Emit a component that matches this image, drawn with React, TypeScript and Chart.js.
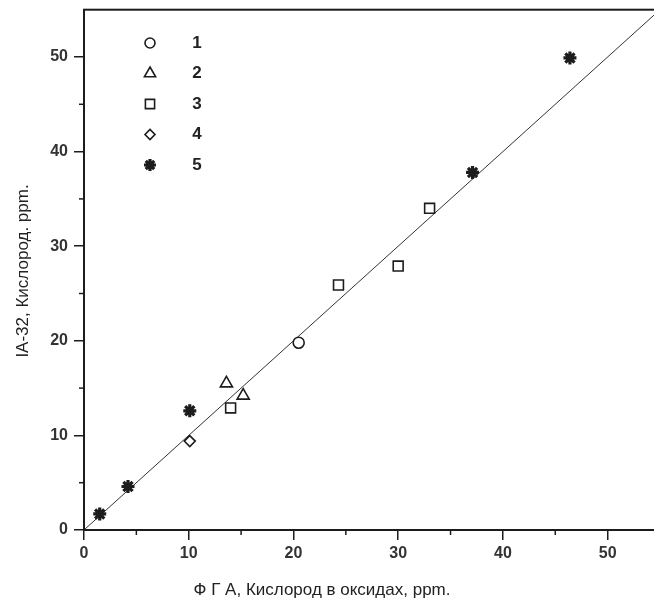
import React, { useEffect, useRef } from "react";
import { Chart, registerables } from "chart.js";
import { drawPoint } from "chart.js/helpers";

Chart.register(...registerables);

const seriesLabels = ["1", "2", "3", "4", "5"];
const s1X = [20.5];
const s1Y = [19.8];
const s2X = [13.6, 15.2];
const s2Y = [15.5, 14.2];
const s3X = [14.0, 24.3, 30.0, 33.0];
const s3Y = [12.9, 25.9, 27.9, 34.0];
const s4X = [10.1];
const s4Y = [9.4];
const s5X = [1.5, 4.2, 10.1, 37.1, 46.4];
const s5Y = [1.7, 4.6, 12.6, 37.8, 49.9];
const fitX = [0, 55];
const fitY = [0, 55];
const xTitle = "Ф Г А, Кислород в оксидах, ppm.";
const yTitle = "IA-32, Кислород. ppm.";
const tickValues = [0, 10, 20, 30, 40, 50];
const axisMin = 0;
const axisMax = 55;

const INK = "#1c1c1c";
const FONT = "'Liberation Sans', Arial, sans-serif";
const pts = (xs: number[], ys: number[]) => xs.map((x, i) => ({ x, y: ys[i] }));

export default function App() {
  const ref = useRef<HTMLCanvasElement | null>(null);

  useEffect(() => {
    if (!ref.current) return;

    const customPlugin = {
      id: "custom",
      afterDraw(chart: any) {
        const { ctx, chartArea: a, scales } = chart;
        const xs = scales.x;
        const ys = scales.y;
        ctx.save();
        // frame
        ctx.strokeStyle = INK;
        ctx.lineWidth = 2;
        ctx.strokeRect(a.left, a.top, a.right - a.left, a.bottom - a.top);
        // minor ticks
        ctx.lineWidth = 1.5;
        for (let v = 5; v < axisMax; v += 10) {
          const px = xs.getPixelForValue(v);
          ctx.beginPath();
          ctx.moveTo(px, a.bottom);
          ctx.lineTo(px, a.bottom + 5);
          ctx.stroke();
          const py = ys.getPixelForValue(v);
          ctx.beginPath();
          ctx.moveTo(a.left, py);
          ctx.lineTo(a.left - 5, py);
          ctx.stroke();
        }
        // titles
        ctx.fillStyle = "#222";
        ctx.font = `17px ${FONT}`;
        ctx.textAlign = "center";
        ctx.textBaseline = "middle";
        ctx.fillText(xTitle, 322, 590);
        ctx.save();
        ctx.translate(23, 271);
        ctx.rotate(-Math.PI / 2);
        ctx.fillText(yTitle, 0, 0);
        ctx.restore();
        // legend
        const ds = chart.data.datasets;
        ctx.font = `bold 17px ${FONT}`;
        for (let i = 0; i < seriesLabels.length; i++) {
          const d = ds[i];
          const ly = 43 + i * 30.5;
          ctx.strokeStyle = INK;
          ctx.fillStyle = d.backgroundColor;
          ctx.lineWidth = d.borderWidth;
          drawPoint(ctx, { pointStyle: d.pointStyle, radius: d.pointRadius - 0.5, borderWidth: d.borderWidth, rotation: 0 } as any, 150, ly);
          ctx.fillStyle = "#222";
          ctx.fillText(seriesLabels[i], 197, ly);
        }
        ctx.restore();
      },
    };

    const common = { showLine: false, borderColor: INK, backgroundColor: "#ffffff" };
    const tickFont = { family: FONT, size: 16, weight: "bold" };

    const chart = new Chart(ref.current, {
      type: "scatter",
      data: {
        datasets: [
          { ...common, label: seriesLabels[0], data: pts(s1X, s1Y), pointStyle: "circle", pointRadius: 5.5, borderWidth: 1.6 },
          { ...common, label: seriesLabels[1], data: pts(s2X, s2Y), pointStyle: "triangle", pointRadius: 7, borderWidth: 1.6 },
          { ...common, label: seriesLabels[2], data: pts(s3X, s3Y), pointStyle: "rect", pointRadius: 7, borderWidth: 1.6 },
          { ...common, label: seriesLabels[3], data: pts(s4X, s4Y), pointStyle: "rectRot", pointRadius: 5.5, borderWidth: 1.6 },
          { ...common, label: seriesLabels[4], data: pts(s5X, s5Y), pointStyle: "star", pointRadius: 6.5, borderWidth: 3.2, backgroundColor: INK },
          { label: "fit", data: pts(fitX, fitY), showLine: true, borderColor: "#333", borderWidth: 1, pointRadius: 0, order: 10 } as any,
        ] as any,
      },
      options: {
        animation: false,
        responsive: false,
        maintainAspectRatio: false,
        layout: { padding: { left: 0, right: 10, top: 8, bottom: 0 } },
        plugins: { legend: { display: false }, tooltip: { enabled: false } },
        scales: {
          x: {
            type: "linear",
            min: axisMin,
            max: axisMax,
            afterFit: (s: any) => { s.height = 80; s.paddingLeft = 0; s.paddingRight = 0; },
            grid: { drawOnChartArea: false, drawTicks: true, tickLength: 10, color: INK, lineWidth: 1.5 },
            border: { display: false },
            ticks: { color: "#333", padding: 4, font: tickFont },
            afterBuildTicks: (s: any) => { s.ticks = tickValues.map((v) => ({ value: v })); },
          },
          y: {
            type: "linear",
            min: axisMin,
            max: axisMax,
            afterFit: (s: any) => { s.width = 84; s.paddingTop = 0; s.paddingBottom = 0; },
            grid: { drawOnChartArea: false, drawTicks: true, tickLength: 10, color: INK, lineWidth: 1.5 },
            border: { display: false },
            ticks: { color: "#333", padding: 6, font: tickFont },
            afterBuildTicks: (s: any) => { s.ticks = tickValues.map((v) => ({ value: v })); },
          },
        },
      } as any,
      plugins: [customPlugin],
    });
    return () => chart.destroy();
  }, []);

  return (
    <div style={{ position: "fixed", left: 0, top: 0, width: 654, height: 610, overflow: "hidden", background: "#fff" }}>
      <canvas ref={ref} width={670} height={610} style={{ display: "block", width: 670, height: 610 }} />
    </div>
  );
}
